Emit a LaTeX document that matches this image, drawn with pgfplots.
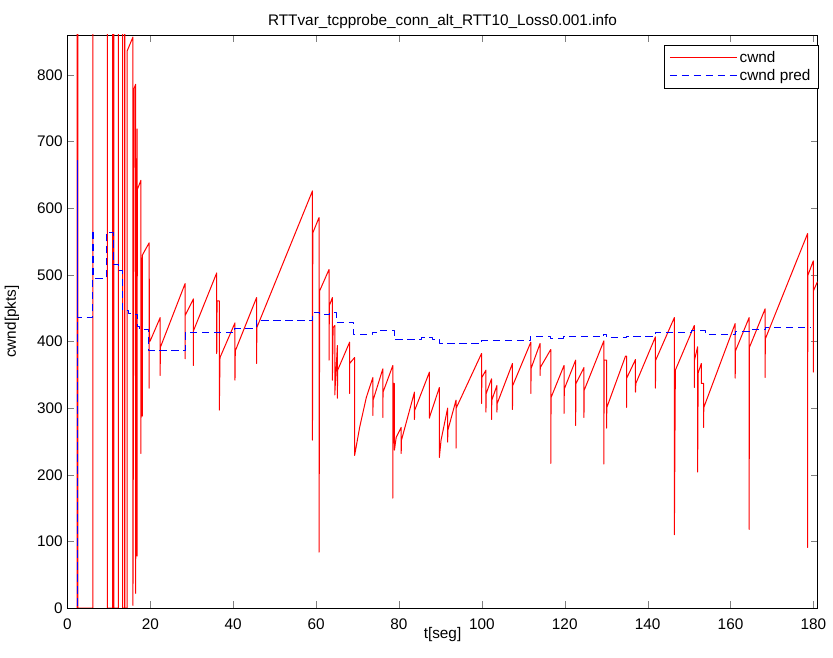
\documentclass[border=0pt]{standalone}
\usepackage{pgfplots}
\usepackage{pgfplotstable}
\pgfplotsset{compat=1.18}
\usepackage{fontspec}
\setmainfont{Liberation Sans}
\usetikzlibrary{calc}
\newcommand{\mf}{\fontsize{11.5}{13}\selectfont}
\definecolor{mred}{rgb}{1,0,0}
\definecolor{mblue}{rgb}{0,0,1}
\pgfplotstableread{
x y
2.3 0
2.3 1000
2.5 1000
2.5 0
6.1 0
6.1 1000
9.6 1000
9.6 0
10.9 0
10.9 1000
11.2 1000
11.2 0
12.3 0
12.3 1000
13.3 1000
13.3 0
13.8 0
13.8 1000
13.85 1000
13.85 0
14.4 0
14.4 836
15.8 857
15.8 4
16.1 780
16.45 786
16.45 22
16.8 719
16.8 78
16.85 628
17.73 642
17.73 232
17.8 520
18.05 526
18.05 288
18.1 530
19.7 548
19.7 330
19.75 494
19.8 400
19.97 401
22.38 436
22.38 349
22.4 391
28.39 487
28.39 374
28.4 439
30.39 464
30.39 364
30.4 416
36.02 503
36.02 382
36.1 461
36.64 461
36.64 297
36.81 376
40.42 428
40.42 342
40.5 386
45.64 466
45.64 367
45.7 421
59.12 626
59.12 252
59.2 563
60.70 586
60.70 84
60.8 292
60.85 476
63.11 508
63.11 372
63.2 454
63.93 466
63.93 342
64.1 421
64.5 424
64.5 320
65.13 394
65.13 315
65.2 357
68.09 399
68.09 322
68.1 367
69.29 376
69.29 229
70.50 271
72.11 316
73.70 346
73.70 289
73.75 312
76.10 359
76.10 286
76.15 324
78.51 364
78.51 165
78.6 337
78.9 337
78.9 237
79.32 256
80.53 271
80.53 232
80.6 252
83.73 324
83.73 283
83.8 297
87.34 354
87.34 285
87.51 289
89.74 331
89.74 226
90.15 252
91.74 300
91.74 249
91.8 267
93.76 312
93.76 240
93.8 300
99.92 382
99.92 307
100.0 346
100.98 357
100.98 294
101.05 322
102.33 344
102.33 283
102.4 312
103.63 334
103.63 294
103.7 307
107.38 367
107.38 298
107.45 334
111.81 399
111.81 322
111.9 360
114.04 397
114.04 349
114.1 361
116.62 388
116.62 217
116.7 316
119.82 364
119.82 292
119.9 329
122.63 372
122.63 274
122.7 337
124.63 361
124.63 286
124.7 327
129.44 401
129.44 216
129.5 372
130.09 372
130.09 270
130.15 301
134.66 378
134.90 378
134.90 301
134.95 345
137.07 373
137.07 324
137.15 337
141.88 407
141.88 330
141.95 372
146.45 436
146.45 110
146.69 357
151.26 424
151.26 331
151.3 372
152.06 392
152.06 204
152.2 353
152.95 367
152.95 337
153.5 337
153.5 271
153.55 301
161.13 427
161.13 345
161.2 386
164.50 436
164.50 118
164.55 391
168.35 449
168.35 346
168.4 404
178.60 562
178.60 91
178.65 499
179.97 521
179.97 354
180.0 476
181 490
}\cwnd
\pgfplotstableread{
x y
0 0
2.35 672
2.38 436
6.0 567
6.3 495
9.4 564
11.05 515
12.4 507
13.3 446
14.8 442
16.5 440
16.9 423
17.5 418
19.65 387
28.4 413
40.4 420
45.6 432
59.15 443
60.9 440
63.3 443
64.9 429
69.1 410
73.6 414
75.3 416
78.95 403
85.5 406
88 403
89.8 397
99.95 401
111.7 408
116.6 405
119.8 407
129.45 411
130 406
134.8 408
141.95 413
150.5 416
154 411
161.1 415
164.5 418
168.4 421
179.3 421
}\pred
\begin{document}
\begin{tikzpicture}
\begin{axis}[
  scale only axis, width=562.5pt, height=429.75pt,
  xmin=0, xmax=181, ymin=0, ymax=860,
  xtick={0,20,...,180}, ytick={0,100,...,800},
  tick align=inside, major tick length=5.25pt,
  /pgf/number format/assume math mode=true,
  tick label style={font=\mf},
  xticklabel style={yshift=-4.5pt},
  axis line style={line width=0.6pt},
  title={RTTvar\_tcpprobe\_conn\_alt\_RTT10\_Loss0.001.info},
  title style={at={(axis description cs:0.5,1.0087)}, anchor=center, font=\mf},
  xlabel={t[seg]}, ylabel={cwnd[pkts]},
  xlabel style={at={(axis description cs:0.5,-0.0471)}, anchor=center, font=\mf},
  ylabel style={at={(axis description cs:-0.074,0.5)}, anchor=center, font=\mf},
  legend style={at={(1,1)}, anchor=north east, xshift=0.4pt, yshift=-7.5pt, draw=black,
    font=\mf, cells={anchor=west}, inner xsep=3.5pt, inner ysep=2.3pt, row sep=0pt},
  legend image code/.code={\path (0pt,0pt) -- (50pt,0pt); \draw[#1] (9pt,0pt) -- (46.5pt,0pt);},
]
\addplot[mred, line width=0.75pt, line join=round] table {\cwnd};
\addlegendentry{cwnd}
\addplot[mblue, line width=0.75pt, line join=round, const plot, dash pattern=on 5.5pt off 3.5pt] table {\pred};
\addlegendentry{cwnd pred}
\end{axis}
\draw[line width=0.8pt] (current axis.south west) -- (current axis.south east);
\pgfresetboundingbox
\path ($(current axis.south west)+(-50.6pt,-36.75pt)$) rectangle ($(current axis.north east)+(11.6pt,26.25pt)$);
\end{tikzpicture}
\end{document}
